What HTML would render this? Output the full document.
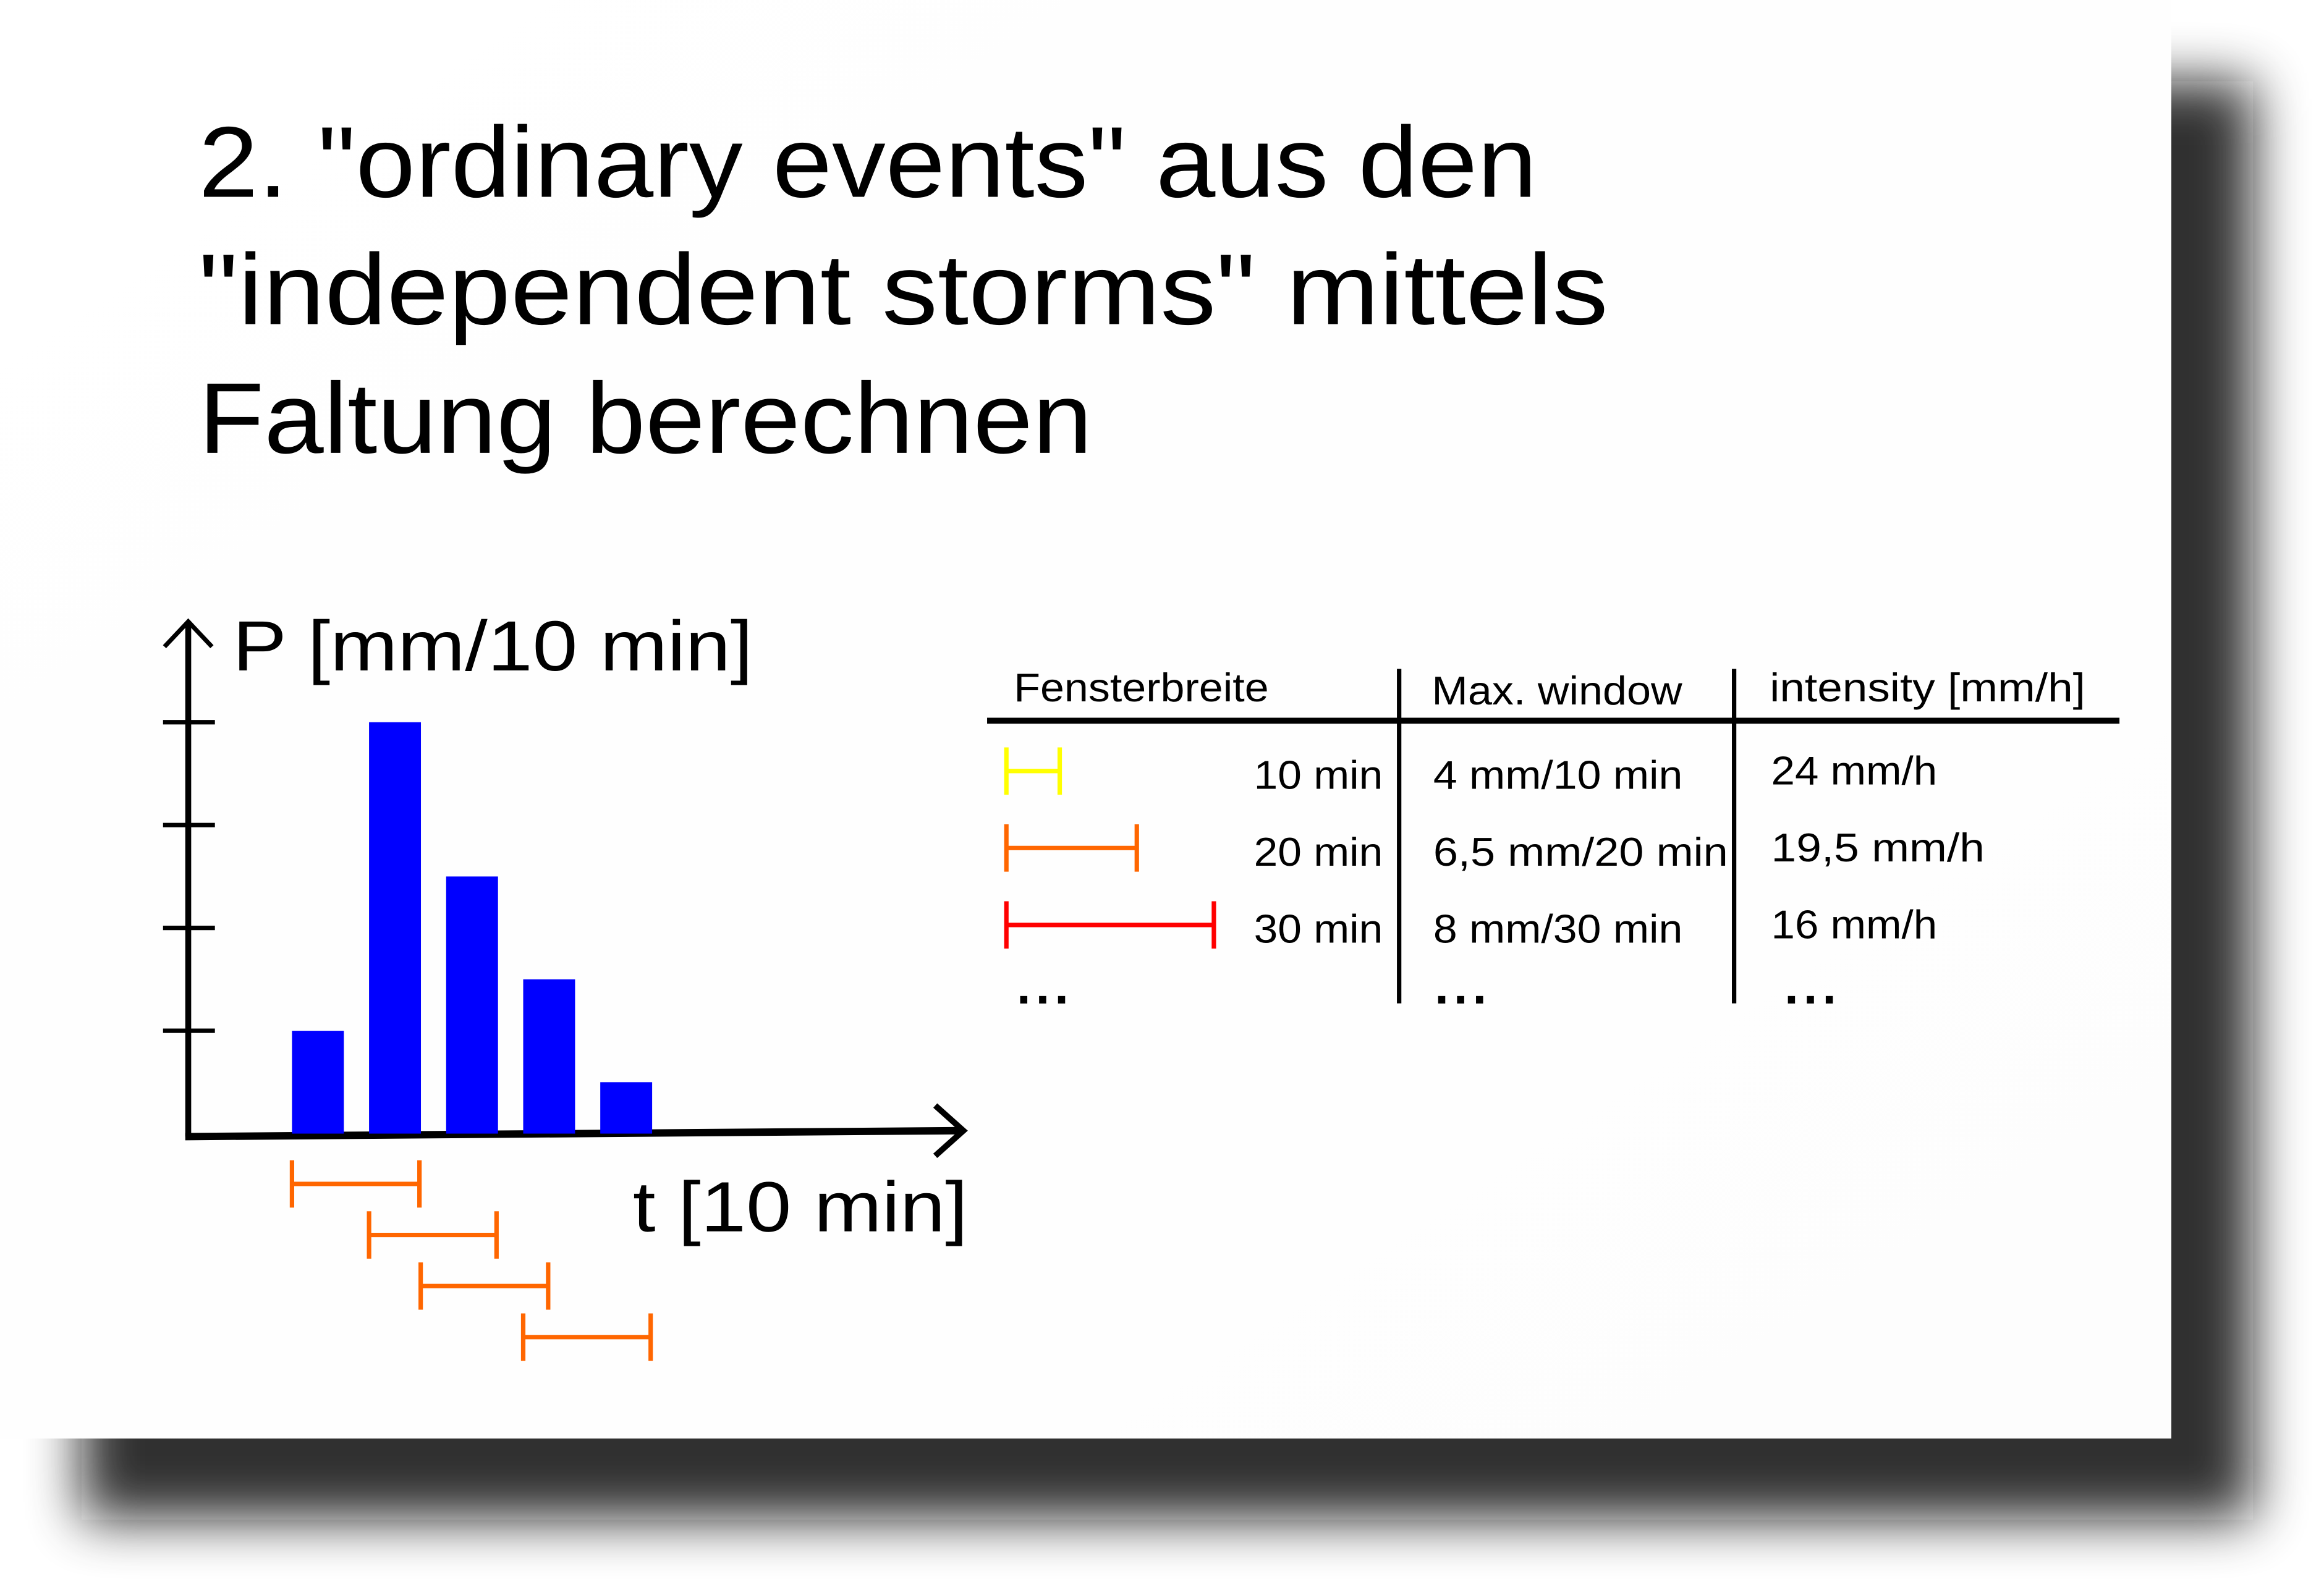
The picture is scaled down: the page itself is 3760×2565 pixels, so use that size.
<!DOCTYPE html>
<html><head><meta charset="utf-8"><style>
html,body{margin:0;padding:0;background:#fff;width:3760px;height:2565px;overflow:hidden}
svg{display:block}
text{font-family:"Liberation Sans",sans-serif;fill:#000}
</style></head><body>
<svg width="3760" height="2565" viewBox="0 0 1568 1071" preserveAspectRatio="none">
<defs>
<filter id="sh" x="-10%" y="-10%" width="130%" height="130%"><feGaussianBlur stdDeviation="18"/></filter>
<linearGradient id="fade" x1="0" y1="0" x2="1" y2="1"><stop offset="0" stop-color="#fff"/><stop offset="1" stop-color="#fdfdfd"/></linearGradient>
</defs>
<rect x="55" y="55" width="1465" height="972" fill="#111" opacity="0.85" filter="url(#sh)"/>
<rect x="0" y="0" width="1465" height="972" fill="url(#fade)"/>
<g font-size="68">
<text x="134" y="133" textLength="903" lengthAdjust="spacingAndGlyphs">2. "ordinary events" aus den</text>
<text x="134" y="219" textLength="951" lengthAdjust="spacingAndGlyphs">"independent storms" mittels</text>
<text x="134" y="306" textLength="603" lengthAdjust="spacingAndGlyphs">Faltung berechnen</text>
</g>
<g id="chart">
<line x1="127" y1="422" x2="127" y2="768" stroke="#000" stroke-width="4"/>
<polyline points="111,437 127,420 143,437" fill="none" stroke="#000" stroke-width="3"/>
<line x1="125" y1="768" x2="648" y2="764" stroke="#000" stroke-width="5"/>
<polyline points="631,747 650,764 631,781" fill="none" stroke="#000" stroke-width="4"/>
<text x="157" y="453" font-size="48" textLength="351" lengthAdjust="spacingAndGlyphs">P [mm/10 min]</text>
<text x="427" y="832" font-size="48" textLength="226" lengthAdjust="spacingAndGlyphs">t [10 min]</text>
<g id="ticks"></g><g id="bars"></g><g id="wins"></g>
</g>
<g font-size="27">
<text x="684" y="474" textLength="172" lengthAdjust="spacingAndGlyphs">Fensterbreite</text>
<text x="966" y="476" textLength="169" lengthAdjust="spacingAndGlyphs">Max. window</text>
<text x="1194" y="474" textLength="213" lengthAdjust="spacingAndGlyphs">intensity [mm/h]</text>
<line x1="666" y1="487" x2="1430" y2="487" stroke="#000" stroke-width="4"/>
<line x1="944" y1="452" x2="944" y2="678" stroke="#000" stroke-width="3"/>
<line x1="1170" y1="452" x2="1170" y2="678" stroke="#000" stroke-width="3"/>
<g id="rows"></g>
<text x="686" y="678" font-size="34" font-weight="bold" textLength="35" lengthAdjust="spacing">...</text>
<text x="968" y="678" font-size="34" font-weight="bold" textLength="35" lengthAdjust="spacing">...</text>
<text x="1204" y="678" font-size="34" font-weight="bold" textLength="35" lengthAdjust="spacing">...</text>
</g>
</svg>
<script>
const categories = [1, 2, 3, 4, 5];
const precipValues = [1, 4, 2.5, 1.5, 0.5];
const tickValues = [1, 2, 3, 4];
const windowStarts = [0, 1, 1.67, 3];
const windowLength = 2;
const rowWidths = ["10 min", "20 min", "30 min"];
const rowMax = ["4 mm/10 min", "6,5 mm/20 min", "8 mm/30 min"];
const rowIntensity = ["24 mm/h", "19,5 mm/h", "16 mm/h"];
const rowSpans = [1, 2, 3];
const rowColors = ["#ffff00", "#ff6600", "#ff0000"];

const NS = "http://www.w3.org/2000/svg";
const y = v => 766 - v * 69.5;
const x = i => 197 + i * 52;
function mk(tag, attrs, parent){const e=document.createElementNS(NS,tag);for(const k in attrs)e.setAttribute(k,attrs[k]);parent.appendChild(e);return e;}
function fit(t,w){t.setAttribute('textLength',w);t.setAttribute('lengthAdjust','spacingAndGlyphs');}
const ticks=document.getElementById('ticks');
tickValues.forEach(v=>{const l=mk('line',{x1:110,x2:145,y1:y(v),y2:y(v),stroke:'#000','stroke-width':3},ticks);

});
const bars=document.getElementById('bars');
categories.forEach((c,i)=>{const r=mk('rect',{x:x(i),y:y(precipValues[i]),width:35,height:precipValues[i]*69.5,fill:'#0000ff'},bars);

});
const wins=document.getElementById('wins');
windowStarts.forEach((s,i)=>{const g=mk('g',{stroke:'#ff6600','stroke-width':3},wins);


const x1=x(s),x2=x1+windowLength*43,yy=800+i*34.5;
mk('line',{x1:x1,x2:x2,y1:yy,y2:yy},g);mk('line',{x1:x1,x2:x1,y1:yy-16,y2:yy+16},g);mk('line',{x1:x2,x2:x2,y1:yy-16,y2:yy+16},g);});
const rows=document.getElementById('rows');
rowWidths.forEach((w,i)=>{const by=533+i*52;
const g=mk('g',{stroke:rowColors[i],'stroke-width':3},rows);


const yy=by-12,x1=679,x2=679+rowSpans[i]*52-16;
mk('line',{x1:x1,x2:x2,y1:yy,y2:yy},g);mk('line',{x1:x1,x2:x1,y1:yy-16,y2:yy+16},g);mk('line',{x1:x2,x2:x2,y1:yy-16,y2:yy+16},g);
const t1=mk('text',{x:846,y:by},rows);t1.textContent=w;fit(t1,87);


const t2=mk('text',{x:967,y:by},rows);t2.textContent=rowMax[i];fit(t2,rowMax[i].length*15.3);


const t3=mk('text',{x:1195,y:by-3},rows);t3.textContent=rowIntensity[i];fit(t3,rowIntensity[i].length*16);

});
</script>
</body></html>
